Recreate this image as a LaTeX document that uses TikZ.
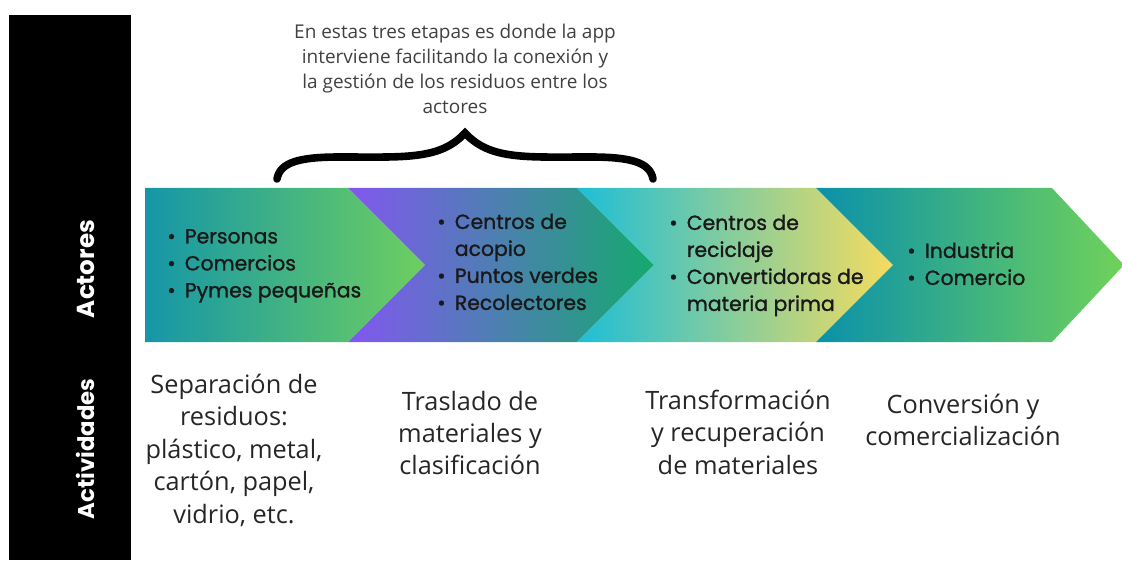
\documentclass[tikz,border=0pt]{standalone}
\usepackage{fontspec}
\setmainfont{Open Sans}
\newfontfamily\popfont{Poppins}
\newfontfamily\popmed{Poppins}[FakeBold=1.2]
\usepackage{xcolor}
\usepackage{tikz}
\usetikzlibrary{calc}

\definecolor{tealA}{HTML}{1596A8}
\definecolor{greenA}{HTML}{6ECF5F}
\definecolor{purpB}{HTML}{8257F0}
\definecolor{greenB}{HTML}{14AA6E}
\definecolor{cyanC}{HTML}{1EBED7}
\definecolor{yellC}{HTML}{F5DC5F}
\definecolor{tealD}{HTML}{0A91AA}
\definecolor{greenD}{HTML}{70D25A}

\begin{document}
\begin{tikzpicture}[
x=0.025cm,y=0.025cm,
bul/.style={
    anchor=west,inner sep=0pt,text=black!90,font=\popmed\fontsize{14.5}{19.2}\selectfont
},
act/.style={
    align=center,inner sep=0pt,text=black!85,font=\fontsize{18}{23.1}\selectfont
},
lbl/.style={
    rotate=90,inner sep=0pt,text=white,font=\popfont\bfseries\fontsize{17.5}{20}\selectfont
},
note/.style={
    align=center,inner sep=0pt,text=black!75,font=\fontsize{13.5}{17.8}\selectfont
}
]
    \useasboundingbox (0,0) rectangle (1122,560);
    \fill[black] (9,0) rectangle (131,545);
    \node(L1)[lbl] at (86,291){Actores};
    \node(L2)[lbl,font=\popfont\bfseries\fontsize{16.2}{20}\selectfont] at (85,111){Actividades};

    % cadena de etapas
    \shade[left color=tealA,right color=greenA] (145,372) -- (348,372) -- (425,295) -- (348,218) -- (145,218) -- cycle;
    \shade[left color=purpB,right color=greenB] (348,372) -- (577,372) -- (654,295) -- (577,218) -- (348,218) -- (425,295) -- cycle;
    \shade[left color=cyanC,right color=yellC] (577,372) -- (816,372) -- (893,295) -- (816,218) -- (577,218) -- (654,295) -- cycle;
    \shade[left color=tealD,right color=greenD] (816,372) -- (1052,372) -- (1124,295) -- (1052,218) -- (816,218) -- (893,295) -- cycle;

    \node(N1)[bul] at (167,295){\begin{tabular}{@{}l@{\hspace{0.45em}}l@{}}
        \textbullet & Personas\\ \textbullet & Comercios\\ \textbullet & Pymes pequeñas\end{tabular}};
    \node(N2)[bul] at (437,296){\begin{tabular}{@{}l@{\hspace{0.45em}}l@{}}
        \textbullet & Centros de\\ & acopio\\ \textbullet & Puntos verdes\\ \textbullet & Recolectores\end{tabular}};
    \node(N3)[bul] at (669,295){\begin{tabular}{@{}l@{\hspace{0.45em}}l@{}}
        \textbullet & Centros de\\ & reciclaje\\ \textbullet & Convertidoras de\\ & materia prima\end{tabular}};
    \node(N4)[bul] at (907,294){\begin{tabular}{@{}l@{\hspace{0.45em}}l@{}}
        \textbullet & Industria\\ \textbullet & Comercio\end{tabular}};

    \node(M1)[act] at (234,110){Separación de\\residuos:\\plástico, metal,\\cartón, papel,\\vidrio, etc.};
    \node(M2)[act] at (470,127){Traslado de\\materiales y\\clasificación};
    \node(M3)[act] at (738,128){Transformación\\y recuperación\\de materiales};
    \node(M4)[act] at (963,140){Conversión y\\comercialización};

    % llave sobre las tres etapas
    \node(K)[note] at (455,491){En estas tres etapas es donde la app\\interviene facilitando la conexión y\\la gestión de los residuos entre los\\actores};
    \coordinate(B) at (465,427);
    \draw[line width=0.19cm,line cap=round] (277,381) .. controls (280,398) and (300,403) .. (340,403)
        .. controls (405,403) and (440,400) .. (B)
        .. controls (490,400) and (525,403) .. (590,403)
        .. controls (630,403) and (650,398) .. (653,381);
\end{tikzpicture}
\end{document}
